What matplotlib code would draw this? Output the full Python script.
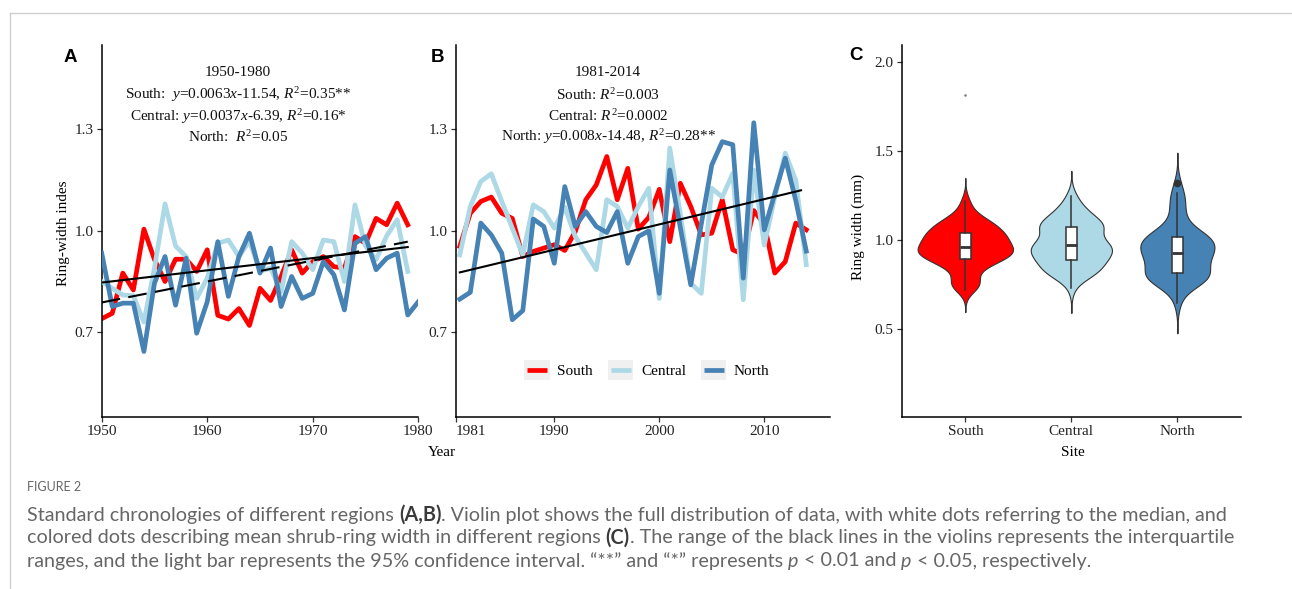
import numpy as np
import matplotlib
matplotlib.use("Agg")
import matplotlib.pyplot as plt
from matplotlib.lines import Line2D
from matplotlib.patches import Rectangle

plt.rcParams['font.family'] = ['Liberation Serif', 'DejaVu Serif']
plt.rcParams['mathtext.fontset'] = 'custom'
plt.rcParams['mathtext.rm'] = 'Liberation Serif'
plt.rcParams['mathtext.it'] = 'Liberation Serif:italic'

# ---- data ----
years_a = list(range(1950, 1981))
south_a = [0.74, 0.756, 0.875, 0.825, 1.005, 0.915, 0.85, 0.916, 0.916, 0.88,
           0.944, 0.75, 0.739, 0.77, 0.72, 0.83, 0.794, 0.865, 0.944, 0.875,
           0.909, 0.924, 0.894, 0.89, 0.983, 0.963, 1.037, 1.018, 1.082, 1.018]
central_a = [0.85, 0.83, 0.81, 0.808, 0.73, 0.89, 1.08, 0.955, 0.924, 0.80,
             0.86, 0.963, 0.973, 0.924, 0.97, 0.88, 0.89, 0.82, 0.968, 0.934,
             0.885, 0.973, 0.968, 0.85, 1.077, 0.955, 0.915, 0.985, 1.033, 0.88]
north_a = [0.934, 0.776, 0.786, 0.786, 0.643, 0.845, 0.924, 0.78, 0.919, 0.697,
           0.79, 0.968, 0.806, 0.924, 0.993, 0.875, 0.949, 0.776, 0.865, 0.80,
           0.815, 0.909, 0.87, 0.766, 0.963, 0.983, 0.885, 0.919, 0.934, 0.751,
           0.79]

years_b = list(range(1981, 2015))
south_b = [0.954, 1.052, 1.087, 1.10, 1.052, 1.037, 0.924, 0.939, 0.949, 0.959,
           0.942, 0.998, 1.092, 1.136, 1.22, 1.092, 1.185, 1.005, 1.04, 1.123,
           0.968, 1.141, 1.072, 0.988, 0.993, 1.092, 0.944, 0.93, 1.06, 1.02,
           0.875, 0.909, 1.023, 1.003]
central_b = [0.929, 1.072, 1.146, 1.169, 1.087, 1.008, 0.929, 1.077, 1.057, 1.008,
             1.07, 0.983, 0.934, 0.885, 1.092, 1.072, 1.008, 1.072, 1.126, 0.80,
             1.245, 1.05, 0.845, 0.815, 1.126, 1.10, 1.17, 0.796, 1.18, 0.958,
             1.10, 1.23, 1.15, 0.90]
north_b = [0.798, 0.818, 1.023, 0.988, 0.934, 0.737, 0.764, 1.035, 1.013, 0.904,
           1.131, 1.013, 1.057, 1.013, 0.995, 1.057, 0.904, 0.983, 1.0, 0.815,
           1.18, 1.01, 0.84, 1.02, 1.195, 1.264, 1.255, 0.86, 1.32, 1.003,
           1.11, 1.215, 1.09, 0.94]

# trend lines (end points)
trend_a_years = [1950, 1979]
south_trend_a = [0.788, 0.968]
central_trend_a = [0.847, 0.952]
trend_b_years = [1981, 2013.5]
north_trend_b = [0.877, 1.12]

sites = ['South', 'Central', 'North']
colors = ['#FF0000', '#ADD8E6', '#4682B4']
stray_point = 1.815   # tiny dot above the South violin

text_a = ["1950-1980",
          r"South:  $y$=0.0063$x$-11.54, $R^{\mathrm{2}}$=0.35**",
          r"Central: $y$=0.0037$x$-6.39, $R^{\mathrm{2}}$=0.16*",
          r"North:  $R^{\mathrm{2}}$=0.05"]
text_b = ["1981-2014",
          r"South: $R^{\mathrm{2}}$=0.003",
          r"Central: $R^{\mathrm{2}}$=0.0002",
          r"North: $y$=0.008$x$-14.48, $R^{\mathrm{2}}$=0.28**"]

W, H = 1292, 589
fig = plt.figure(figsize=(W / 100, H / 100), dpi=100)


def box(l, t, r, b):
    return [l / W, 1 - b / H, (r - l) / W, (b - t) / H]


def ftxt(x, y, s, **kw):
    return fig.text(x / W, 1 - y / H, s, **kw)


def style(ax):
    for s in ['top', 'right']:
        ax.spines[s].set_visible(False)
    for s in ['left', 'bottom']:
        ax.spines[s].set_linewidth(1.1)
        ax.spines[s].set_color('black')
    ax.tick_params(length=3.5, width=0.9, color='#333333', labelsize=11,
                   labelcolor='#222222', pad=2.5)


FS = 11
LW = 3.4

# ---- panel A ----
axA = fig.add_axes(box(101.7, 45, 418.3, 416.7))
axA.plot(years_a[:len(south_a)], south_a, color=colors[0], lw=LW, zorder=2)
axA.plot(years_a[:len(central_a)], central_a, color=colors[1], lw=LW, zorder=3)
axA.plot(years_a, north_a, color=colors[2], lw=LW, zorder=4)
axA.plot(trend_a_years, central_trend_a, color='black', lw=1.5, zorder=5)
axA.plot(trend_a_years, south_trend_a, color='black', lw=1.5, zorder=5,
         dashes=(9, 4))
axA.set_xlim(1950, 1980)
axA.set_ylim(0.45, 1.55)
axA.set_xticks([1950, 1960, 1970, 1980])
axA.set_yticks([0.7, 1.0, 1.3])
axA.set_yticklabels(['0.7', '1.0', '1.3'])
style(axA)

# ---- panel B ----
axB = fig.add_axes(box(455.7, 45, 830, 416.7))
axB.plot(years_b, south_b, color=colors[0], lw=LW, zorder=2)
axB.plot(years_b, central_b, color=colors[1], lw=LW, zorder=3)
axB.plot(years_b, north_b, color=colors[2], lw=LW, zorder=4)
axB.plot(trend_b_years, north_trend_b, color='black', lw=1.5, zorder=5)
axB.set_xlim(1980.61, 2016.26)
axB.set_ylim(0.45, 1.55)
axB.set_xticks([1980.61, 1990, 2000, 2010])
axB.set_xticklabels(['1981', '1990', '2000', '2010'])
axB.get_xticklabels()[0].set_horizontalalignment('left')
axB.set_yticks([0.7, 1.0, 1.3])
axB.set_yticklabels(['0.7', '1.0', '1.3'])
style(axB)


class KeyHandler:
    """ggplot-like legend key: grey square with a thick line across."""
    def __init__(self, color):
        self.color = color

    def legend_artist(self, legend, orig_handle, fontsize, handlebox):
        x0, y0 = handlebox.xdescent, handlebox.ydescent
        w, h = handlebox.width, handlebox.height
        bg = Rectangle((-x0, -y0), w, h, facecolor='#f0f0f0', edgecolor='none',
                       transform=handlebox.get_transform())
        ln = Line2D([-x0 + 0.1 * w, -x0 + 0.9 * w], [-y0 + h / 2] * 2,
                    color=self.color, lw=LW, solid_capstyle='butt',
                    transform=handlebox.get_transform())
        handlebox.add_artist(bg)
        handlebox.add_artist(ln)
        return ln


keys = [Line2D([], [], color=c) for c in colors]
axB.legend(keys, sites, handler_map={k: KeyHandler(c) for k, c in zip(keys, colors)},
           loc='center', bbox_to_anchor=(0.511, 0.1256), ncol=3,
           frameon=False, fontsize=FS, handlelength=1.65, handleheight=1.65,
           handletextpad=0.5, columnspacing=1.0, borderaxespad=0,
           borderpad=0)

# ---- panel C (violins) ----
axC = fig.add_axes(box(901.7, 45, 1241, 416.7))
groups = [south_a + south_b, central_a + central_b, north_a + north_b]


def kde(vals):
    v = np.asarray(vals, float)
    q75, q25 = np.percentile(v, [75, 25])
    bw = 0.9 * min(v.std(ddof=1), (q75 - q25) / 1.34) * len(v) ** -0.2
    grid = np.linspace(v.min() - 3 * bw, v.max() + 3 * bw, 512)
    d = np.exp(-0.5 * ((grid[:, None] - v[None, :]) / bw) ** 2).sum(1)
    d /= len(v) * bw * np.sqrt(2 * np.pi)
    return grid, d


dens = [kde(g) for g in groups]
dmax = max(d.max() for _, d in dens)
for i, ((grid, d), c) in enumerate(zip(dens, colors)):
    w = 0.45 * d / dmax
    axC.fill_betweenx(grid, i + 1 - w, i + 1 + w, facecolor=c,
                      edgecolor='#333333', lw=0.8, zorder=2)

axC.boxplot(groups, positions=[1, 2, 3], widths=0.1, patch_artist=True,
            showcaps=False, zorder=3,
            boxprops=dict(facecolor='white', edgecolor='#333333', lw=1.1),
            medianprops=dict(color='#333333', lw=2.0),
            whiskerprops=dict(color='#333333', lw=1.1),
            flierprops=dict(marker='o', markerfacecolor='#333333',
                            markeredgecolor='#333333', markersize=4.5))
axC.plot([1], [stray_point], marker='o', ms=0.8, color='#777777', ls='none')
axC.set_xlim(0.4, 3.6)
axC.set_ylim(0.0056, 2.094)
axC.set_xticks([1, 2, 3])
axC.set_xticklabels(sites)
axC.set_yticks([0.5, 1.0, 1.5, 2.0])
axC.set_yticklabels(['0.5', '1.0', '1.5', '2.0'])
style(axC)

# ---- text ----
for i, (sa, sb) in enumerate(zip(text_a, text_b)):
    y = [73, 95, 116.5, 137][i]
    ftxt(238, y, sa, ha='center', va='center', fontsize=FS, color='#111111')
    ftxt(608, y, sb, ha='center', va='center', fontsize=FS, color='#111111')

for lab, x, y in [('A', 70, 57), ('B', 437, 57), ('C', 856, 56)]:
    ftxt(x, y, lab, ha='center', va='center', fontsize=13.5,
         fontweight='bold', family='Liberation Sans')

ftxt(63, 233, 'Ring-width indes', rotation=90, ha='center', va='center',
     fontsize=FS)
ftxt(441.7, 453, 'Year', ha='center', va='center', fontsize=FS)
ftxt(858, 227, 'Ring width (mm)', rotation=90, ha='center', va='center',
     fontsize=FS)
ftxt(1072.7, 452, 'Site', ha='center', va='center', fontsize=FS)

# ---- frame ----
fig.add_artist(Line2D([10 / W, 1], [1 - 12.5 / H] * 2, color='#cfcfcf', lw=1.0))
fig.add_artist(Line2D([9.5 / W] * 2, [0, 1 - 12.5 / H], color='#cfcfcf', lw=1.0))

# ---- caption ----
cap_color = '#666666'
cap_font = 'Lato'
renderer = fig.canvas.get_renderer()


def piece_width(s, size, weight, fstyle):
    t = fig.text(0, 0, s + '|', fontsize=size, fontweight=weight,
                 fontstyle=fstyle, family=cap_font)
    t2 = fig.text(0, 0, '|', fontsize=size, fontweight=weight,
                  fontstyle=fstyle, family=cap_font)
    w = t.get_window_extent(renderer).width - t2.get_window_extent(renderer).width
    t.remove()
    t2.remove()
    return w


cap_lines = [
    [("Standard chronologies of different regions ", 'normal', 'normal'),
     ("(A,B)", 'bold', 'normal'),
     (". Violin plot shows the full distribution of data, with white dots "
      "referring to the median, and", 'normal', 'normal')],
    [("colored dots describing mean shrub-ring width in different regions ",
      'normal', 'normal'),
     ("(C)", 'bold', 'normal'),
     (". The range of the black lines in the violins represents the "
      "interquartile", 'normal', 'normal')],
    [("ranges, and the light bar represents the 95% confidence interval. "
      "\u201c**\u201d and \u201c*\u201d represents ", 'normal', 'normal'),
     ("p", 'normal', 'italic'), (" < 0.01 and ", 'normal', 'normal'),
     ("p", 'normal', 'italic'), (" < 0.05, respectively.", 'normal', 'normal')],
]

base = 12.0
w1 = sum(piece_width(s, base, wt, st) for s, wt, st in cap_lines[0])
cap_size = base * 1196 / w1

ftxt(27, 487, 'FIGURE 2', fontsize=9, color=cap_color, family=cap_font,
     va='center', ha='left')
for line, y in zip(cap_lines, [515, 538, 561]):
    x = 27
    for s, wt, st in line:
        c = '#3a3a3a' if wt == 'bold' else cap_color
        ftxt(x, y, s, fontsize=cap_size, fontweight=wt, fontstyle=st,
             family=cap_font, color=c, va='center', ha='left')
        x += piece_width(s, cap_size, wt, st)

fig.savefig('out.png', dpi=100)
